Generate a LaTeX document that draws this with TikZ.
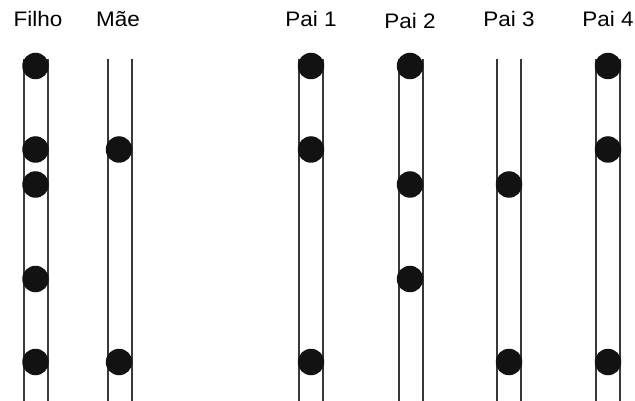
\documentclass[tikz,border=0pt]{standalone}
\usepackage{fontspec}
\setmainfont{Liberation Sans}
\begin{document}
\begin{tikzpicture}[x=1pt,y=-1pt,
  strand/.style={draw=black!78,line width=2pt},
  allele/.style={circle,fill=black!93,inner sep=0pt,minimum size=26.5pt},
  lbl/.style={font=\fontsize{21}{21}\selectfont,anchor=base,xscale=1.07,inner sep=0pt}]
\useasboundingbox (0,0) rectangle (635,401);
% labels
\node[lbl] (tF) at (38,27) {Filho};
\node[lbl] (tM) at (118,27) {Mãe};
\node[lbl] (t1) at (311,27) {Pai 1};
\node[lbl] (t2) at (410,28.5) {Pai 2};
\node[lbl] (t3) at (509,27) {Pai 3};
\node[lbl] (t4) at (608,27) {Pai 4};
% chromosome strands
\foreach \n/\cx in {F/35.5,M/119.5,A/311,B/410.5,C/509,D/608}{
  \coordinate (\n tl) at (\cx-12,59);
  \coordinate (\n bl) at (\cx-12,401);
  \coordinate (\n tr) at (\cx+12,59);
  \coordinate (\n br) at (\cx+12,401);
  \draw[strand] (\n tl) -- (\n bl);
  \draw[strand] (\n tr) -- (\n br);
}
% alleles
\foreach \i/\y in {1/66,2/149.5,3/184.5,4/279,5/362}{
  \node[allele] (F\i) at (35.5,\y) {};
}
\foreach \i/\y in {2/149.5,5/362}{
  \node[allele] (M\i) at (119,\y) {};
}
\foreach \i/\y in {1/66,2/149.5,5/362}{
  \node[allele] (A\i) at (311,\y) {};
}
\foreach \i/\y in {1/66,3/184.5,4/279}{
  \node[allele] (B\i) at (410,\y) {};
}
\foreach \i/\y in {3/184.5,5/362}{
  \node[allele] (C\i) at (509,\y) {};
}
\foreach \i/\y in {1/66,2/149.5,5/362}{
  \node[allele] (D\i) at (608,\y) {};
}
\end{tikzpicture}
\end{document}
